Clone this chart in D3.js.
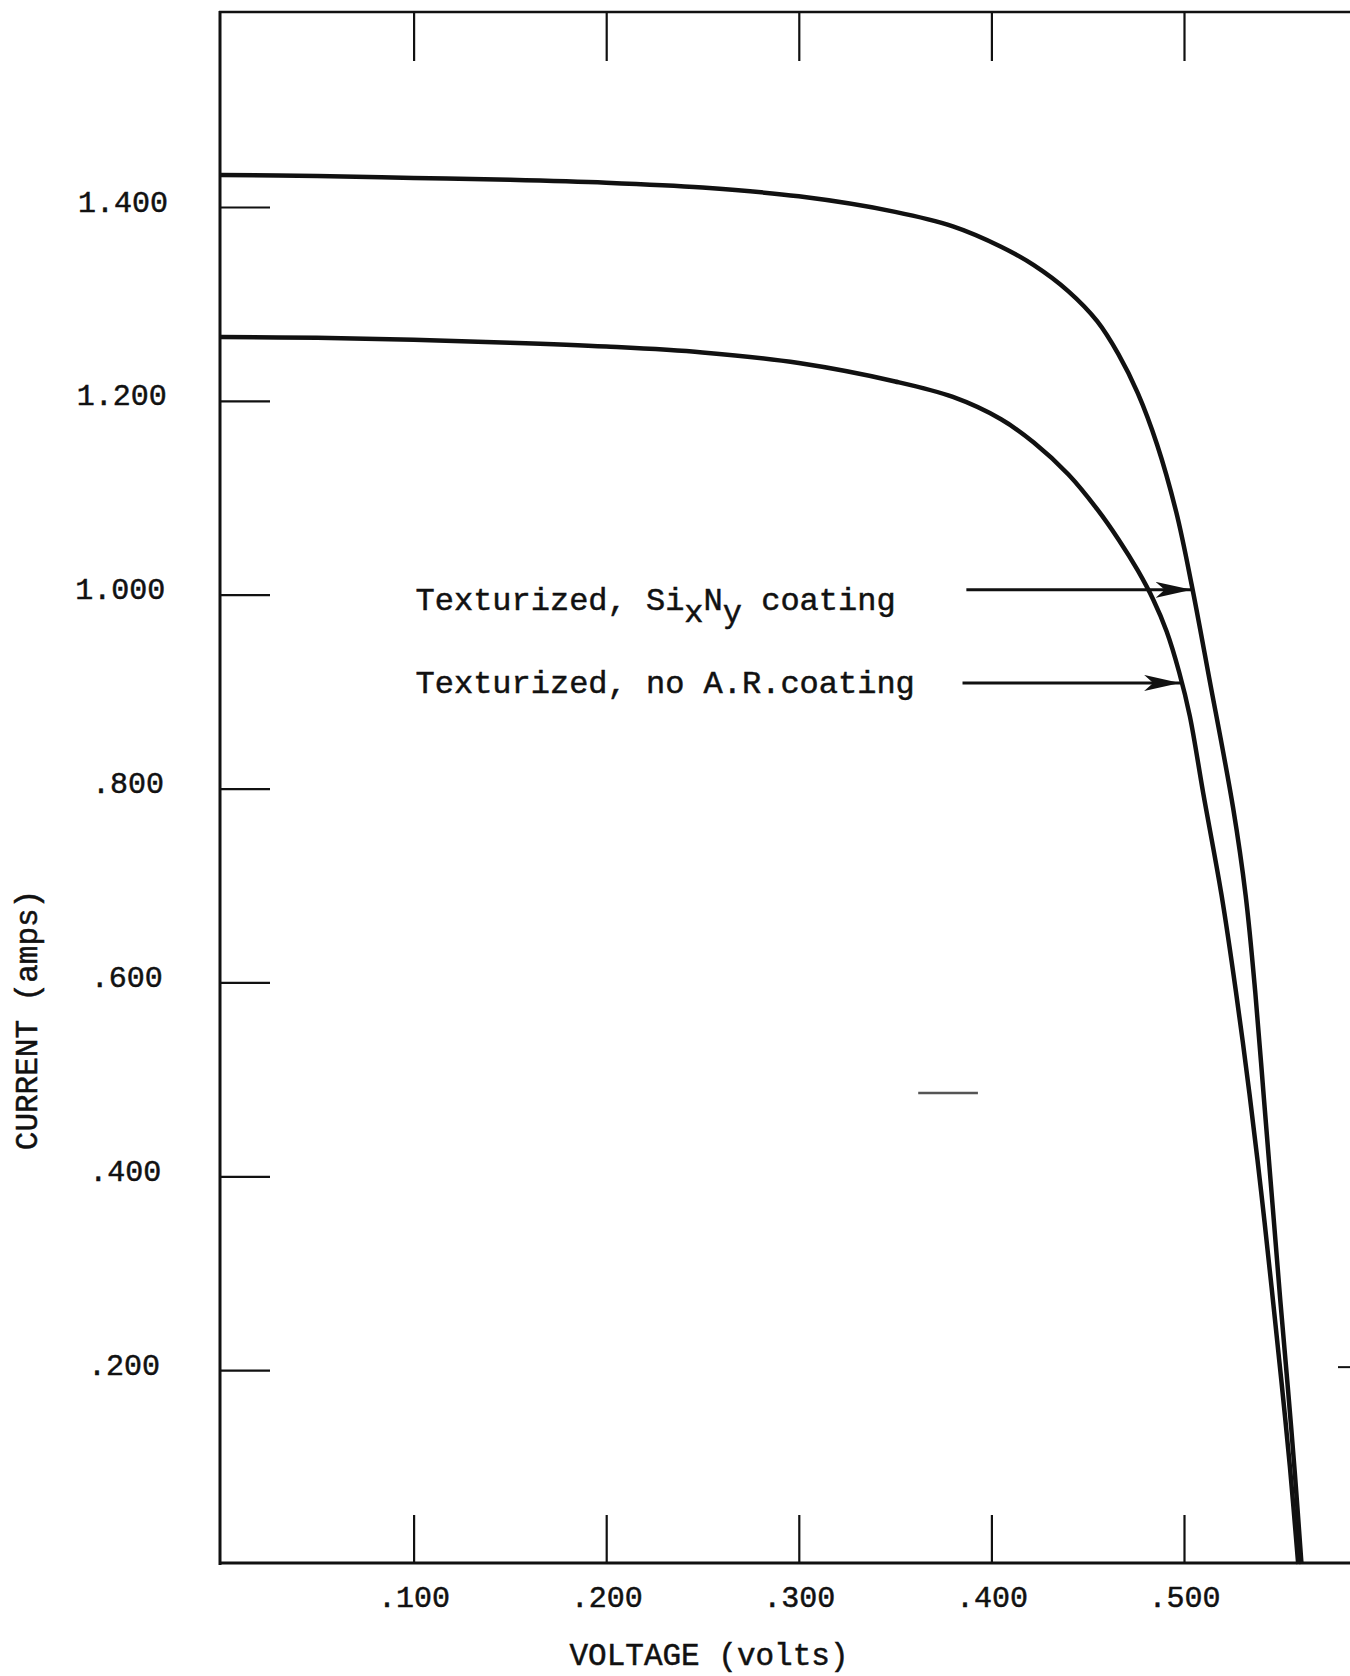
<!DOCTYPE html>
<html>
<head>
<meta charset="utf-8">
<script src="https://cdnjs.cloudflare.com/ajax/libs/d3/7.8.5/d3.min.js"></script>
<style>
  body { margin: 0; background: #fff; }
  svg { display: block; background: #fff; }
  text {
    font-family: "Liberation Mono", "DejaVu Sans Mono", monospace;
    fill: #111;
    stroke: #111;
    stroke-width: 0.5px;
  }
  .tick line { stroke: #111; stroke-width: 2.2px; }
  .tick text { font-size: 30px; }
  .frame { stroke: #111; stroke-width: 3px; }
  .curve { fill: none; stroke: #111; stroke-width: 4.5px; stroke-linejoin: round; }
</style>
</head>
<body>
<svg width="1350" height="1676"></svg>
<script>
// ticks
var voltTicks = [0.1, 0.2, 0.3, 0.4, 0.5];
var ampTicks = [0.2, 0.4, 0.6, 0.8, 1.0, 1.2, 1.4];

// Texturized, SixNy coating
var coatedVolts = [0.000, 0.050, 0.100, 0.150, 0.200, 0.250, 0.300, 0.350, 0.380, 0.405, 0.422, 0.440, 0.455, 0.466, 0.476, 0.486, 0.496, 0.504, 0.513, 0.5255, 0.532, 0.537, 0.5415, 0.546, 0.550, 0.554, 0.5575, 0.561];
var coatedAmps  = [1.433, 1.432, 1.430, 1.428, 1.425, 1.420, 1.411, 1.395, 1.380, 1.359, 1.340, 1.313, 1.282, 1.248, 1.208, 1.155, 1.085, 1.010, 0.915, 0.780, 0.690, 0.590, 0.480, 0.370, 0.272, 0.180, 0.095, 0.000];

// Texturized, no A.R. coating
var bareVolts = [0.000, 0.050, 0.100, 0.150, 0.200, 0.250, 0.300, 0.350, 0.380, 0.405, 0.422, 0.440, 0.455, 0.466, 0.476, 0.484, 0.491, 0.4975, 0.503, 0.510, 0.5195, 0.527, 0.534, 0.540, 0.5455, 0.5505, 0.555, 0.5593];
var bareAmps  = [1.266, 1.265, 1.263, 1.260, 1.256, 1.250, 1.239, 1.220, 1.204, 1.181, 1.157, 1.124, 1.088, 1.057, 1.025, 0.995, 0.962, 0.920, 0.875, 0.795, 0.690, 0.590, 0.485, 0.385, 0.285, 0.190, 0.100, 0.000];

// labels with arrows ("_" = next char is a subscript)
var labelText  = ["Texturized, Si_xN_y coating", "Texturized, no A.R.coating"];
var labelVolts = [0.101, 0.101];
var labelAmps  = [0.984, 0.899];
var arrowAmps  = [1.005, 0.909];
var arrowFrom  = [0.387, 0.385];
var arrowTo    = [0.504, 0.498];

var svg = d3.select("svg");

var x = d3.scaleLinear().domain([0, 0.5]).range([221, 1184]);
var y = d3.scaleLinear().domain([0, 1.4]).range([1564, 207]);

var fmt = d => d3.format(".3f")(d).replace(/^0/, "");

// frame
svg.append("line").attr("class", "frame")
  .attr("x1", 220).attr("y1", 11).attr("x2", 220).attr("y2", 1565);
svg.append("line").attr("class", "frame").style("stroke-width", "2.5px")
  .attr("x1", 219).attr("y1", 12).attr("x2", 1350).attr("y2", 12);
svg.append("line").attr("class", "frame")
  .attr("x1", 219).attr("y1", 1563).attr("x2", 1350).attr("y2", 1563);

// y axis, ticks point into the plot
svg.append("g")
  .attr("transform", "translate(220,0)")
  .call(d3.axisLeft(y).tickValues(ampTicks).tickSize(-50).tickSizeOuter(0).tickPadding(52).tickFormat(fmt))
  .call(g => g.select(".domain").remove())
  .selectAll("text")
    .attr("dy", "4px")
    .attr("x", d => -52 - (1.4 - d) * 6.7);

// x axis bottom
svg.append("g")
  .attr("transform", "translate(0,1563)")
  .call(d3.axisBottom(x).tickValues(voltTicks).tickSize(-48).tickSizeOuter(0).tickPadding(23).tickFormat(fmt))
  .call(g => g.select(".domain").remove());

// x ticks top
svg.append("g")
  .attr("transform", "translate(0,12)")
  .call(d3.axisTop(x).tickValues(voltTicks).tickSize(-49).tickSizeOuter(0).tickFormat(""))
  .call(g => g.select(".domain").remove());

// little stub at the right edge
svg.append("line").attr("class", "frame").style("stroke-width", "2px")
  .attr("x1", 1338).attr("y1", y(0.2) - 3).attr("x2", 1350).attr("y2", y(0.2) - 3);

// stray mark in the original
svg.append("line")
  .attr("x1", x(0.362)).attr("x2", x(0.393))
  .attr("y1", y(0.486)).attr("y2", y(0.486))
  .attr("stroke", "#555").attr("stroke-width", 2.5);

// curves
var line = d3.line()
  .x(d => x(d[0]))
  .y(d => y(d[1]))
  .curve(d3.curveCatmullRom.alpha(0.5));

svg.append("path").attr("class", "curve").attr("d", line(d3.zip(coatedVolts, coatedAmps)));
svg.append("path").attr("class", "curve").attr("d", line(d3.zip(bareVolts, bareAmps)));

// arrows
svg.append("defs").append("marker")
  .attr("id", "head")
  .attr("viewBox", "0 -8 36 16")
  .attr("markerUnits", "userSpaceOnUse")
  .attr("markerWidth", 36).attr("markerHeight", 16)
  .attr("refX", 36).attr("refY", 0)
  .attr("orient", "auto")
  .append("path")
    .attr("d", "M0,-8 L36,0 L0,8 L9,0 Z")
    .attr("fill", "#111");

arrowAmps.forEach((a, i) => {
  svg.append("line")
    .attr("x1", x(arrowFrom[i])).attr("x2", x(arrowTo[i]))
    .attr("y1", y(a)).attr("y2", y(a))
    .attr("stroke", "#111").attr("stroke-width", 3)
    .attr("marker-end", "url(#head)");
});

// labels
labelText.forEach((t, i) => {
  var txt = svg.append("text")
    .attr("x", x(labelVolts[i]))
    .attr("y", y(labelAmps[i]))
    .style("font-size", "32px")
    .attr("xml:space", "preserve");
  var parts = t.split(/(_.)/).filter(p => p.length);
  var down = false;
  parts.forEach(p => {
    if (p[0] === "_") {
      txt.append("tspan").attr("dy", down ? 0 : 12).text(p[1]);
      down = true;
    } else {
      txt.append("tspan").attr("dy", down ? -12 : 0).text(p);
      down = false;
    }
  });
});

// axis titles
svg.append("text")
  .attr("x", 709).attr("y", 1665)
  .attr("text-anchor", "middle")
  .style("font-size", "31px")
  .text("VOLTAGE (volts)");

svg.append("text")
  .attr("transform", "translate(37,1020) rotate(-90)")
  .attr("text-anchor", "middle")
  .style("font-size", "31px")
  .text("CURRENT (amps)");
</script>
</body>
</html>
